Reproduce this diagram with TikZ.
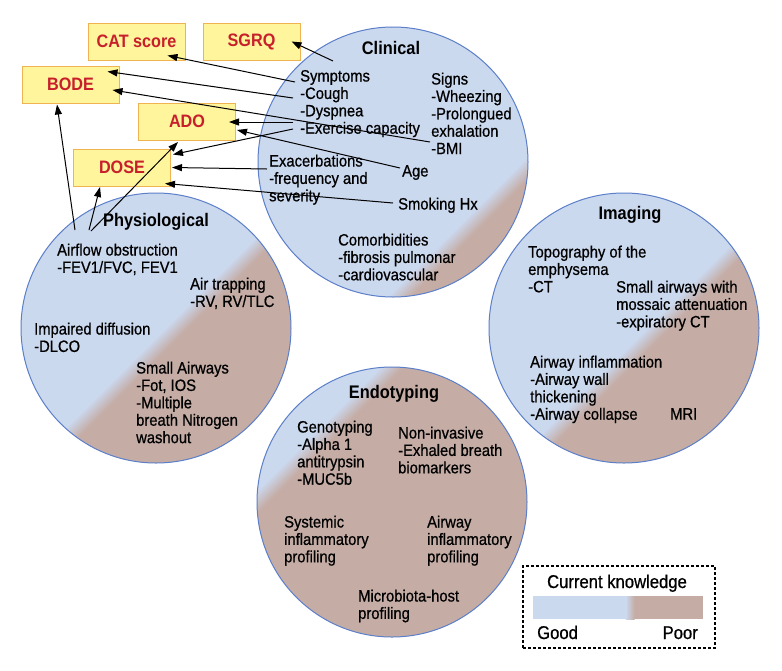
\documentclass[tikz,border=0pt]{standalone}
\usepackage{fontspec}
\setmainfont{Liberation Sans}[FakeStretch=0.9]
\newfontfamily\bodyfont{Liberation Sans}[FakeStretch=0.9,FakeBold=0.7]
\usetikzlibrary{arrows.meta,calc}
\definecolor{cblue}{HTML}{CBD9EF}
\definecolor{cbrown}{HTML}{C5ADA6}
\definecolor{cedge}{HTML}{5C7FC9}
\definecolor{byellow}{HTML}{FFF59D}
\definecolor{borange}{HTML}{EFB451}
\definecolor{bred}{HTML}{C8202B}
\newcommand{\kcirc}[3]{%
  \begin{scope}
    \clip (#1,#2) circle[radius=135pt];
    \fill[cblue] (#1,#2) circle[radius=136pt];
    \begin{scope}[shift={(#1,#2)}, rotate=-45]
      \fill[cbrown] ({#3+8},-150) rectangle (150,150);
      \foreach \i in {0,...,15}{%
        \pgfmathsetmacro\kfr{100-(\i+0.5)*100/16}%
        \fill[cblue!\kfr!cbrown] ({#3-8+\i},-150) rectangle ({#3-7+\i+0.4},150);}
    \end{scope}
  \end{scope}}
\begin{document}
\begin{tikzpicture}[x=1pt,y=-1pt,
  txt/.style={font=\bodyfont\fontsize{16.4}{17.4}\selectfont, align=left, anchor=base west, inner sep=0pt},
  ttl/.style={font=\bfseries\fontsize{18.2}{20}\selectfont, anchor=base, inner sep=0pt},
  score/.style={draw=borange, line width=1pt, fill=byellow, minimum width=97pt, minimum height=37pt, inner sep=0pt, font=\bfseries\fontsize{18}{20}\selectfont, text=bred},
  arr/.style={-{Triangle[length=10pt,width=7pt]}, line width=1pt},
  ring/.style={circle, draw=cedge, line width=1pt, minimum size=270pt, inner sep=0pt},
  lgtxt/.style={font=\bodyfont\fontsize{18.5}{20}\selectfont, inner sep=0pt}
]
\fill[white] (0,0) rectangle (782,670);
\useasboundingbox (0,0) rectangle (782,670);

% circles
\kcirc{393}{162}{100}
\kcirc{156}{328}{15}
\kcirc{624}{328}{25}
\kcirc{392}{502}{-95}
\node[ring] (clin) at (393,162) {};
\node[ring] (phys) at (156,328) {};
\node[ring] (img) at (624,328) {};
\node[ring] (endo) at (392,502) {};

% score boxes
\node[score] (cat) at (136.5,41.5) {CAT score};
\node[score] (sgrq) at (251.5,41.5) {SGRQ};
\node[score] (bode) at (70.5,84.5) {BODE};
\node[score] (ado) at (187,121.5) {ADO};
\node[score] (dose) at (122,167.5) {DOSE};

% connector start points
\coordinate (s1) at (333,61);
\coordinate (s2) at (295,82);
\coordinate (s3) at (293,98);
\coordinate (s4) at (430,142);
\coordinate (s5) at (293,122);
\coordinate (s6) at (400,168);
\coordinate (s7) at (293,129);
\coordinate (s8) at (267,169);
\coordinate (s9) at (393,203);
\coordinate (p1) at (75,230);
\coordinate (p2) at (89,230);
\coordinate (p3) at (91,231);

% connectors
\draw[arr] (s1) -- ($(sgrq.east)+(-9,0)$);
\draw[arr] (s2) -- ($(cat.south east)+(-18,-5)$);
\draw[arr] (s3) -- ($(bode.north east)+(-12,6)$);
\draw[arr] (s4) -- ($(bode.east)+(-7,5.5)$);
\draw[arr] (s5) -- ($(ado.east)+(-7,0.5)$);
\draw[arr] (s6) -- ($(ado.east)+(1,8.5)$);
\draw[arr] (s7) -- ($(dose.north east)+(2,6)$);
\draw[arr] (s8) -- ($(dose.east)+(1,0)$);
\draw[arr] (s9) -- ($(dose.south east)+(-6,-3)$);
\draw[arr] (p1) -- ($(bode.south)+(-13.5,1)$);
\draw[arr] (p2) -- ($(dose.south)+(-22,0.5)$);
\draw[arr] (p3) -- ($(ado.south)+(-9,1.5)$);

% clinical (multi-line nodes: anchor at baseline of last line)
\node[ttl] (tclin) at (391,54) {Clinical};
\node[txt] (symp) at (300,133.7) {Symptoms\\-Cough\\-Dyspnea\\-Exercise capacity};
\node[txt] (signs) at (431,154.1) {Signs\\-Wheezing\\-Prolongued\\exhalation\\-BMI};
\node[txt] (age) at (402,176.5) {Age};
\node[txt] (exac) at (269,201.3) {Exacerbations\\-frequency and\\severity};
\node[txt] (smok) at (398,209.5) {Smoking Hx};
\node[txt] (comor) at (338,280.3) {Comorbidities\\-fibrosis pulmonar\\-cardiovascular};

% physiological
\node[ttl] (tphys) at (156,226) {Physiological};
\node[txt] (airf) at (57,272.9) {Airflow obstruction\\-FEV1/FVC, FEV1};
\node[txt] (trap) at (190,306.9) {Air trapping\\-RV, RV/TLC};
\node[txt] (diff) at (34,351.9) {Impaired diffusion\\-DLCO};
\node[txt] (small) at (136,443.1) {Small Airways\\-Fot, IOS\\-Multiple\\breath Nitrogen\\washout};

% imaging
\node[ttl] (timg) at (630,219) {Imaging};
\node[txt] (topo) at (528,292.3) {Topography of the\\emphysema\\-CT};
\node[txt] (saw) at (616,327.3) {Small airways with\\mossaic attenuation\\-expiratory CT};
\node[txt] (ainf) at (530,419.7) {Airway inflammation\\-Airway wall\\thickening\\-Airway collapse};
\node[txt] (mri) at (670,419.5) {MRI};

% endotyping
\node[ttl] (tendo) at (394,398) {Endotyping};
\node[txt] (geno) at (297,484.7) {Genotyping\\-Alpha 1\\antitrypsin\\-MUC5b};
\node[txt] (noninv) at (398,473.3) {Non-invasive\\-Exhaled breath\\biomarkers};
\node[txt] (syst) at (284,562.3) {Systemic\\inflammatory\\profiling};
\node[txt] (awinf) at (427,562.3) {Airway\\inflammatory\\profiling};
\node[txt] (micro) at (358,618.9) {Microbiota-host\\profiling};

% legend
\node[draw, dash pattern=on 3pt off 2pt, line width=1.2pt, minimum width=192pt, minimum height=82pt, inner sep=0pt] (legend) at (619,607) {};
\fill[cblue] (533,596) rectangle (626,619);
\fill[cbrown] (634,596) rectangle (703,619);
\shade[left color=cblue, right color=cbrown] (625.5,596) rectangle (634.5,619);
\node[lgtxt, anchor=base] (lgt) at (617,588) {Current knowledge};
\node[lgtxt, anchor=base west] (good) at (537,639) {Good};
\node[lgtxt, anchor=base east] (poor) at (698,639) {Poor};
\end{tikzpicture}
\end{document}
